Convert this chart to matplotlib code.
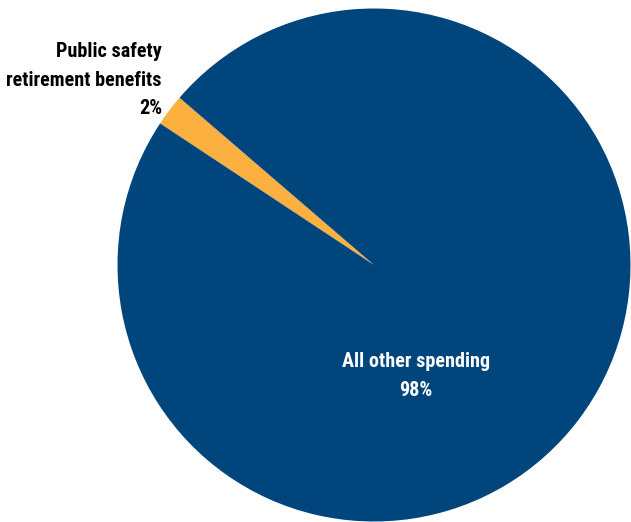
import matplotlib
matplotlib.use('Agg')
import matplotlib.pyplot as plt

labels = ['Public safety\nretirement benefits', 'All other spending']
shares = [2, 98]
colors = ['#fbb040', '#00457b']

plt.rcParams['font.family'] = ['Roboto Condensed', 'Noto Sans', 'DejaVu Sans']
plt.rcParams['font.stretch'] = 'extra-condensed'

W, H = 631, 522
fig = plt.figure(figsize=(W / 100, H / 100), dpi=100)
ax = fig.add_axes([0, 0, 1, 1])

# pie center/radius in pixel coords (y measured from bottom)
ax.pie(shares, colors=colors, startangle=139.3, counterclock=True,
       center=(374, H - 265), radius=256.5, frame=True,
       wedgeprops=dict(linewidth=0))
ax.set_xlim(0, W)
ax.set_ylim(0, H)
ax.axis('off')

ax.text(162, H - 80, labels[0] + '\n' + str(shares[0]) + '%', ha='right',
        va='center', fontsize=14.5, fontweight='bold',
        color='black', linespacing=1.65, multialignment='right')

ax.text(416, H - 376, labels[1] + '\n' + str(shares[1]) + '%', ha='center',
        va='center', fontsize=14.5, fontweight='bold',
        color='white', linespacing=1.65)

fig.savefig('out.png', dpi=100)
